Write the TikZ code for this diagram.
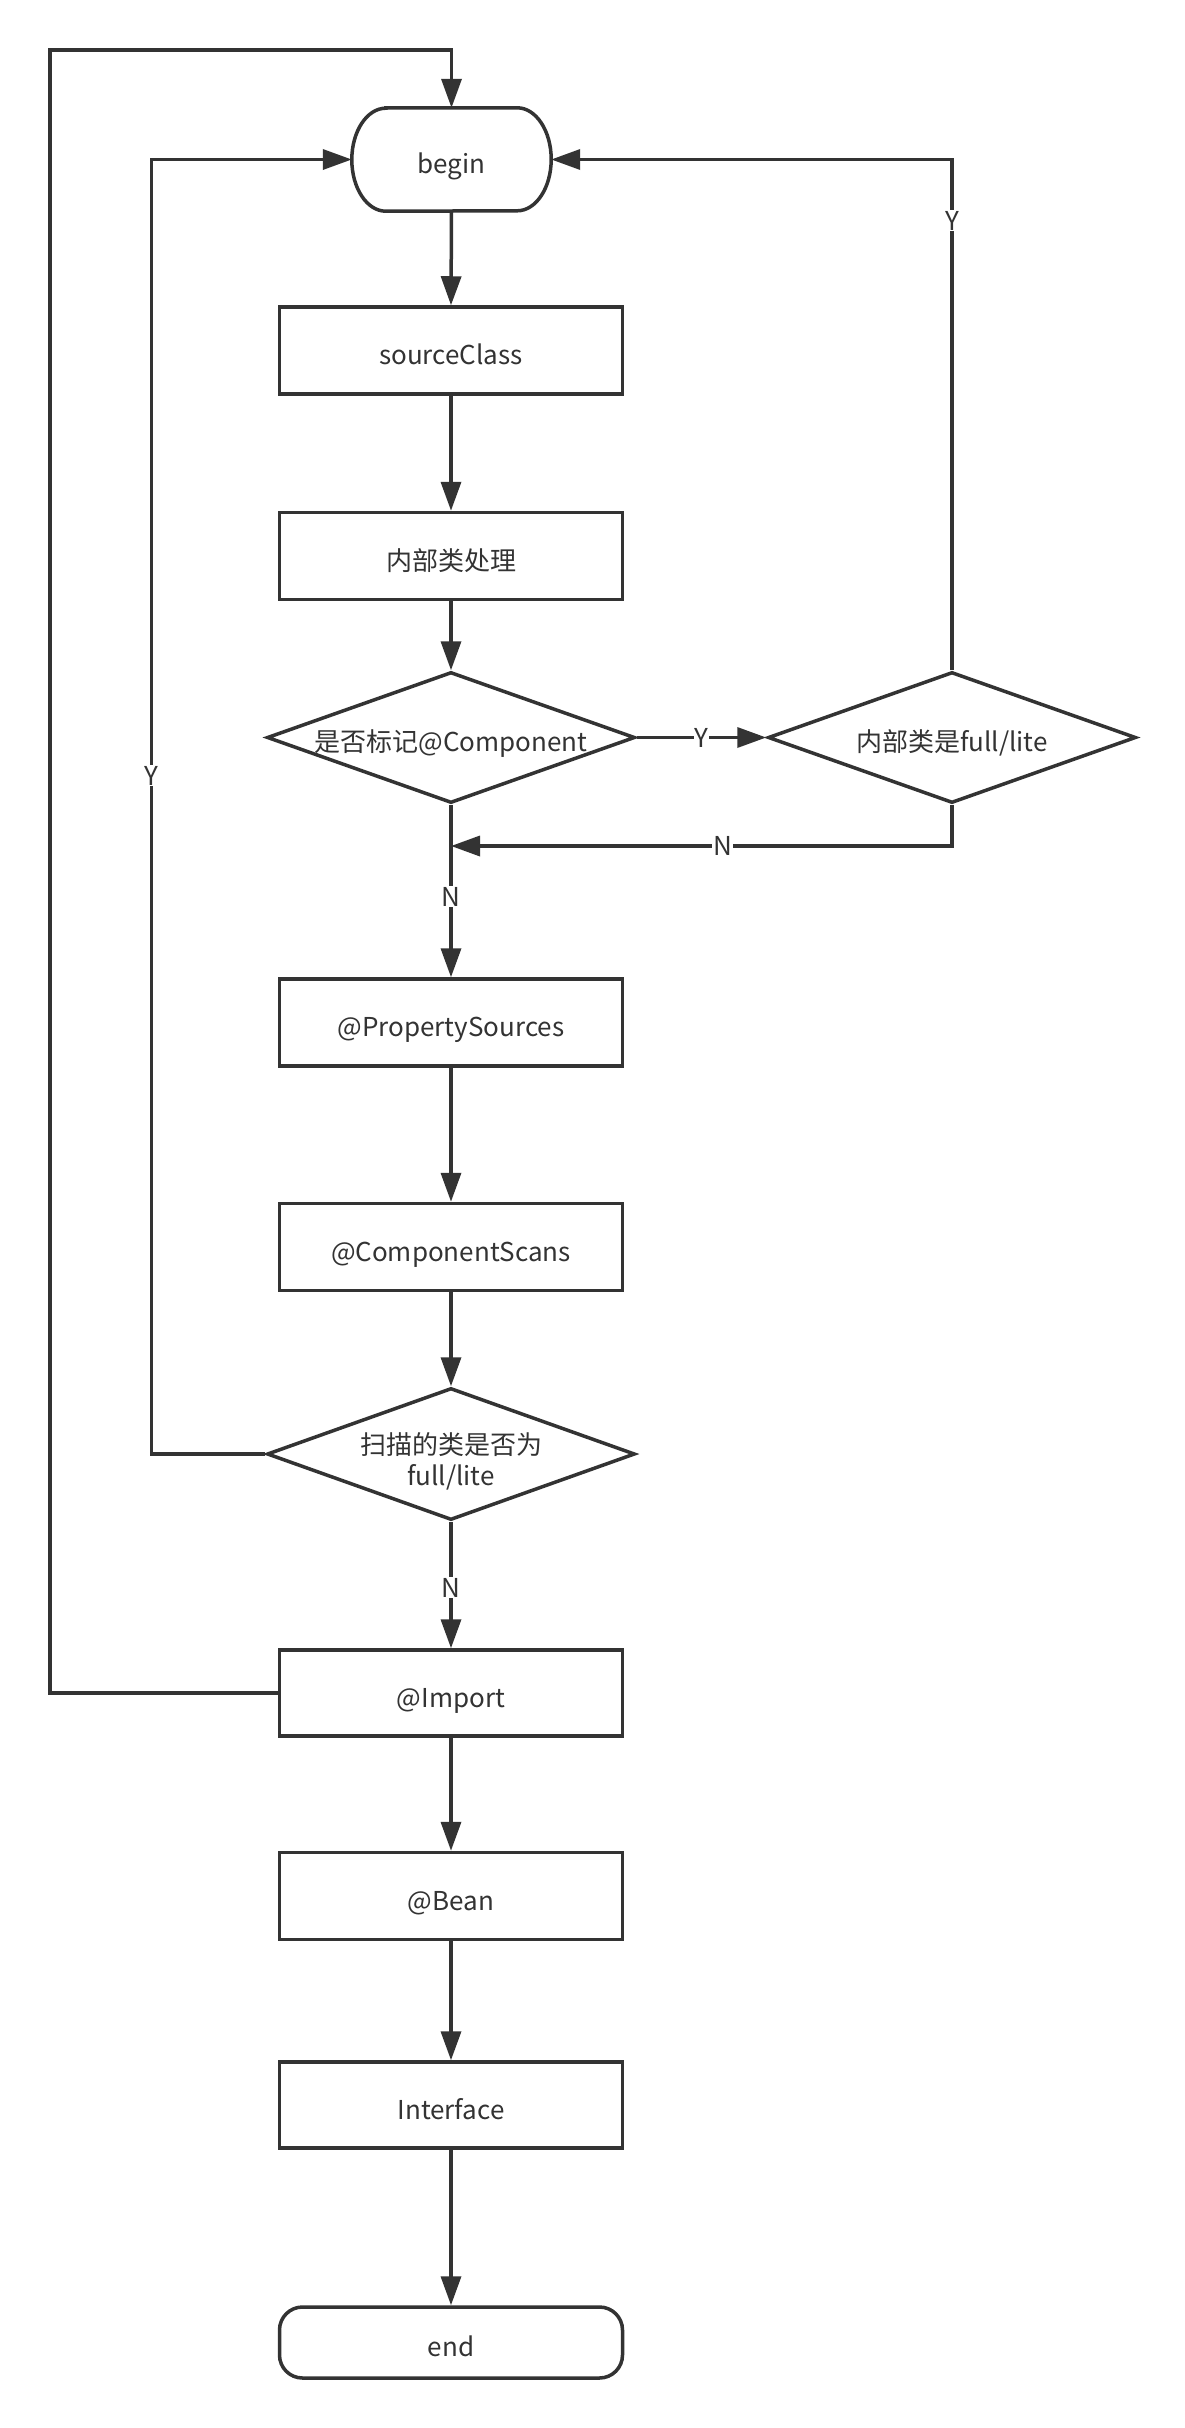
\documentclass[tikz,border=0pt]{standalone}
\usepackage{fontspec}
\setmainfont{Noto Sans CJK SC}
\usetikzlibrary{shapes.geometric,arrows.meta}
\definecolor{ink}{HTML}{333333}
\begin{document}
\begin{tikzpicture}[x=1pt,y=-1pt,
  every node/.style={font=\fontsize{26}{31}\selectfont, text=ink},
  txt/.style={text height=30pt, text depth=2pt},
  ln/.style={draw=ink, line width=3.5pt},
  arr/.style={ln, -{Triangle[length=29pt,width=20pt]}},
  box/.style={ln, rectangle, minimum width=343pt, minimum height=87pt, inner sep=0pt, txt},
  dia/.style={ln, diamond, minimum width=368pt, minimum height=131pt, inner sep=0pt},
  lbl/.style={fill=white, inner sep=1pt}
]
\fill[white] (0,0) rectangle (1185,2428);
\useasboundingbox (0,0) rectangle (1185,2428);

% nodes
\node[minimum width=199pt, minimum height=103pt, inner sep=0pt, txt] (begin) at (451.5,159.5) {begin};
\draw[ln] ([xshift=34pt]begin.north west) -- ([xshift=-34pt]begin.north east)
  arc[start angle=90,end angle=-90,x radius=34pt,y radius=51.5pt]
  -- ([xshift=34pt]begin.south west)
  arc[start angle=270,end angle=90,x radius=34pt,y radius=51.5pt] -- cycle;

\node[box] (src) at (451,350.5) {sourceClass};
\node[box] (inner) at (451,556) {内部类处理};
\node[dia, label={[name=d1t, txt]center:是否标记@Component}] (d1) at (451,737.5) {};
\node[dia, label={[name=d2t, txt]center:内部类是full/lite}] (d2) at (952,737.5) {};
\coordinate (j) at (451,846);
\node[box] (prop) at (451,1022.5) {@PropertySources};
\node[box] (scan) at (451,1247) {@ComponentScans};
\node[dia, minimum height=132pt,
  label={[name=d3t, align=center, yshift=-7pt]center:扫描的类是否为\\full/lite}] (d3) at (451,1454) {};
\node[box, minimum height=86pt] (imp) at (451,1693) {@Import};
\node[box] (bean) at (451,1896) {@Bean};
\node[box, minimum height=86pt] (intf) at (451,2105) {Interface};
\node[box, minimum height=71pt, rounded corners=23pt] (end) at (451,2342.5) {end};

\coordinate (tl) at (50,50);
\coordinate (ll) at (151.5,1454);

% connectors
\draw[arr] (begin.south) -- (src.north);
\draw[arr] (src.south) -- (inner.north);
\draw[arr] (inner.south) -- (d1.north);
\draw[arr] (d1.east) -- node[lbl]{Y} (d2.west);
\draw[arr] (d2.north) |- node[lbl,pos=0.44]{Y} (begin.east);
\draw[arr] (d2.south) |- node[lbl,pos=0.729]{N} (j);
\draw[arr] (d1.south) -- node[lbl,pos=0.534]{N} (prop.north);
\draw[arr] (prop.south) -- (scan.north);
\draw[arr] (scan.south) -- (d3.north);
\draw[arr] (d3.south) -- node[lbl,pos=0.52]{N} (imp.north);
\draw[arr] (d3.west) -- (ll) |- node[lbl,pos=0.262]{Y} (begin.west);
\draw[arr] (imp.west) -| (tl) -| (begin.north);
\draw[arr] (imp.south) -- (bean.north);
\draw[arr] (bean.south) -- (intf.north);
\draw[arr] (intf.south) -- (end.north);
\end{tikzpicture}
\end{document}
